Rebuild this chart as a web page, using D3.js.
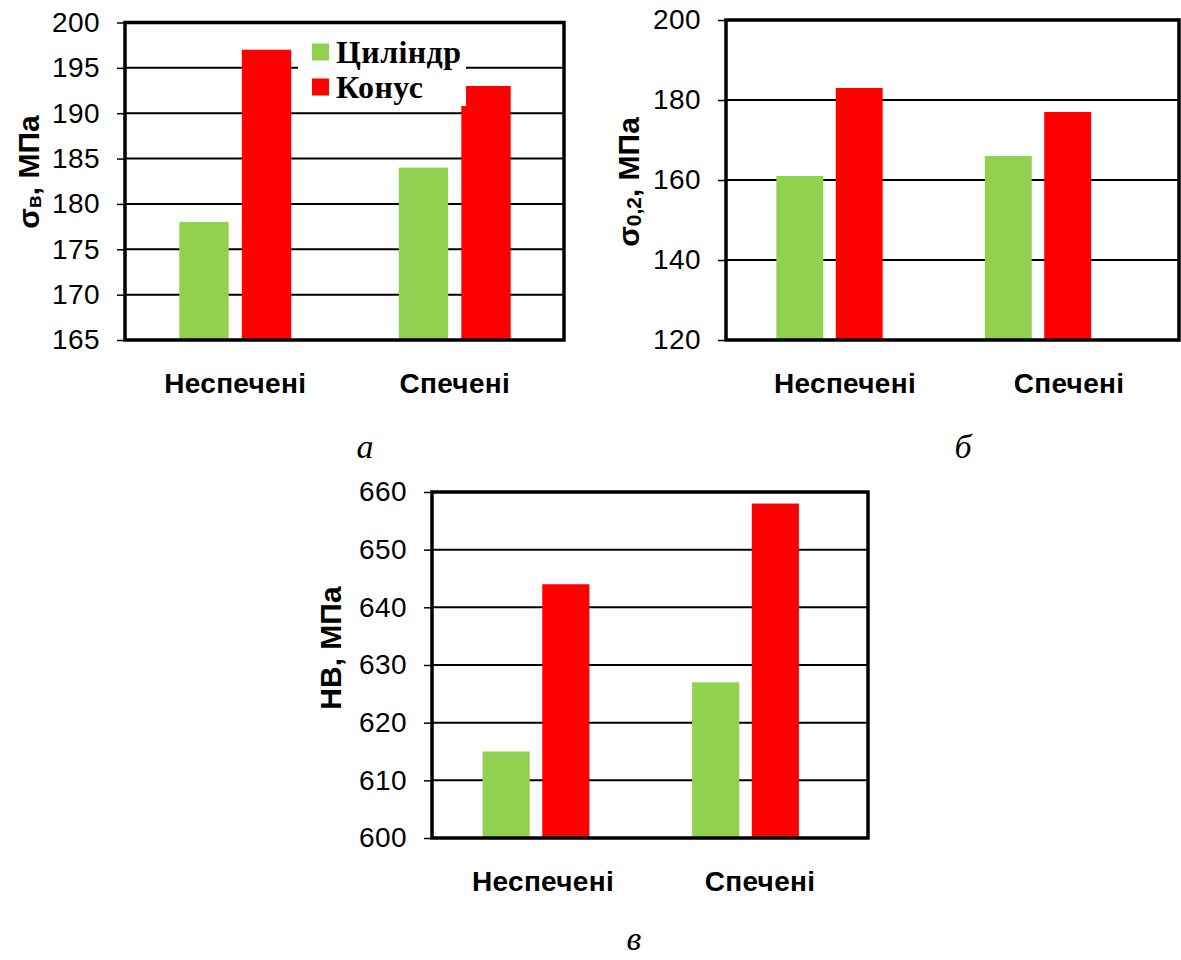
<!DOCTYPE html>
<html>
<head>
<meta charset="utf-8">
<script src="https://cdn.jsdelivr.net/npm/d3@7"></script>
<style>
  html, body { margin: 0; padding: 0; background: #fff; }
  svg { display: block; }
</style>
</head>
<body>
<svg id="fig" width="1181" height="960"></svg>
<script>
// Sample states and specimen shapes
const categories = ["Неспечені", "Спечені"];
const seriesNames = ["Циліндр", "Конус"];
const seriesColors = ["#92D050", "#FF0000"];

// Ultimate tensile strength, MPa
const tensileCylinder = [178, 184];
const tensileCone = [197, 193];
const tensileTicks = [165, 170, 175, 180, 185, 190, 195, 200];

// Yield strength σ0,2, MPa
const yieldCylinder = [161, 166];
const yieldCone = [183, 177];
const yieldTicks = [120, 140, 160, 180, 200];

// Brinell hardness, MPa
const hardnessCylinder = [615, 627];
const hardnessCone = [644, 658];
const hardnessTicks = [600, 610, 620, 630, 640, 650, 660];

const svg = d3.select("#fig");

const panels = [
  {
    series: [tensileCylinder, tensileCone], ticks: tensileTicks,
    frame: { x0: 125, x1: 564, y0: 22.5, y1: 340 },
    barRange: [125.5, 564.5], labelRange: [125.5, 564.5],
    title: [["σ", null], ["в", "sub"], [", МПа", null]], titlePos: [28, 172],
    letter: "а", letterPos: [365, 458], legend: true
  },
  {
    series: [yieldCylinder, yieldCone], ticks: yieldTicks,
    frame: { x0: 726, x1: 1179, y0: 20, y1: 340 },
    barRange: [725.25, 1142.25], labelRange: [733, 1181],
    title: [["σ", null], ["0,2", "sub"], [", МПа", null]], titlePos: [628, 182],
    letter: "б", letterPos: [963, 458], legend: false
  },
  {
    series: [hardnessCylinder, hardnessCone], ticks: hardnessTicks,
    frame: { x0: 432, x1: 868, y0: 492, y1: 838 },
    barRange: [431.25, 850.25], labelRange: [434.5, 868.5],
    title: [["НВ, МПа", null]], titlePos: [330, 648],
    letter: "в", letterPos: [634, 950], legend: false
  }
];

panels.forEach(p => {
  const g = svg.append("g");
  const f = p.frame;

  const y = d3.scaleLinear()
    .domain([p.ticks[0], p.ticks[p.ticks.length - 1]])
    .range([f.y1, f.y0]);

  const x = d3.scaleBand().domain(categories).range(p.barRange)
    .paddingInner(0.49).paddingOuter(0.245);
  const xs = d3.scaleBand().domain(seriesNames).range([0, x.bandwidth()])
    .paddingInner(0.21);
  const xl = d3.scaleBand().domain(categories).range(p.labelRange);

  // horizontal gridlines
  g.append("g").selectAll("line")
    .data(p.ticks.slice(1, -1))
    .join("line")
    .attr("x1", f.x0).attr("x2", f.x1)
    .attr("y1", d => y(d)).attr("y2", d => y(d))
    .attr("stroke", "#000").attr("stroke-width", 2);

  // bars
  const rows = [];
  categories.forEach((c, i) => seriesNames.forEach((s, j) =>
    rows.push({ c, s, j, v: p.series[j][i] })));
  g.append("g").selectAll("rect")
    .data(rows)
    .join("rect")
    .attr("x", d => x(d.c) + xs(d.s))
    .attr("width", xs.bandwidth())
    .attr("y", d => y(d.v))
    .attr("height", d => y(p.ticks[0]) - y(d.v))
    .attr("fill", d => seriesColors[d.j]);

  // legend box, drawn over the plot area
  if (p.legend) {
    const lg = g.append("g");
    lg.append("rect").attr("x", 298).attr("y", 27).attr("width", 168).attr("height", 79)
      .attr("fill", "#fff");
    seriesNames.forEach((s, j) => {
      const cy = 52 + j * 35;
      lg.append("rect").attr("x", 312).attr("y", cy - 8.5).attr("width", 17).attr("height", 17)
        .attr("fill", seriesColors[j]);
      lg.append("text").attr("x", 336).attr("y", cy + 11)
        .attr("font-family", "'Liberation Serif', 'Times New Roman', serif")
        .attr("font-weight", "bold").attr("font-size", 32).attr("letter-spacing", 0.4)
        .attr("fill", "#000").text(s);
    });
  }

  // plot frame
  g.append("rect")
    .attr("x", f.x0).attr("y", f.y0)
    .attr("width", f.x1 - f.x0).attr("height", f.y1 - f.y0)
    .attr("fill", "none").attr("stroke", "#000").attr("stroke-width", 3.5);

  // y axis ticks and labels
  const ya = g.append("g").attr("transform", `translate(${f.x0},0)`)
    .call(d3.axisLeft(y).tickValues(p.ticks).tickSize(8).tickPadding(17).tickFormat(d3.format("d")));
  ya.select(".domain").remove();
  ya.selectAll(".tick line").attr("stroke", "#000").attr("stroke-width", 1.5);
  ya.selectAll("text")
    .attr("font-family", "'Liberation Sans', Arial, sans-serif")
    .attr("font-size", 28).attr("letter-spacing", 0.4).attr("fill", "#000");

  // category labels
  const xa = g.append("g").attr("transform", `translate(0,${f.y1})`)
    .call(d3.axisBottom(xl).tickSize(0).tickPadding(33));
  xa.select(".domain").remove();
  xa.selectAll("text")
    .attr("font-family", "'Liberation Sans', Arial, sans-serif")
    .attr("font-weight", "bold").attr("font-size", 28).attr("letter-spacing", 0.3)
    .attr("fill", "#000");

  // y axis title
  const t = g.append("text")
    .attr("transform", `translate(${p.titlePos[0]},${p.titlePos[1]}) rotate(-90)`)
    .attr("text-anchor", "middle").attr("dominant-baseline", "central")
    .attr("font-family", "'Liberation Sans', Arial, sans-serif")
    .attr("font-weight", "bold").attr("font-size", 30).attr("fill", "#000");
  p.title.forEach(([txt, kind]) => {
    const ts = t.append("tspan").text(txt);
    if (kind === "sub") ts.attr("font-size", 21).attr("baseline-shift", "-28%");
  });

  // panel letter
  g.append("text").attr("x", p.letterPos[0]).attr("y", p.letterPos[1])
    .attr("text-anchor", "middle")
    .attr("font-family", "'Liberation Serif', 'Times New Roman', serif")
    .attr("font-style", "italic").attr("font-size", 34).attr("fill", "#000")
    .text(p.letter);
});
</script>
</body>
</html>
